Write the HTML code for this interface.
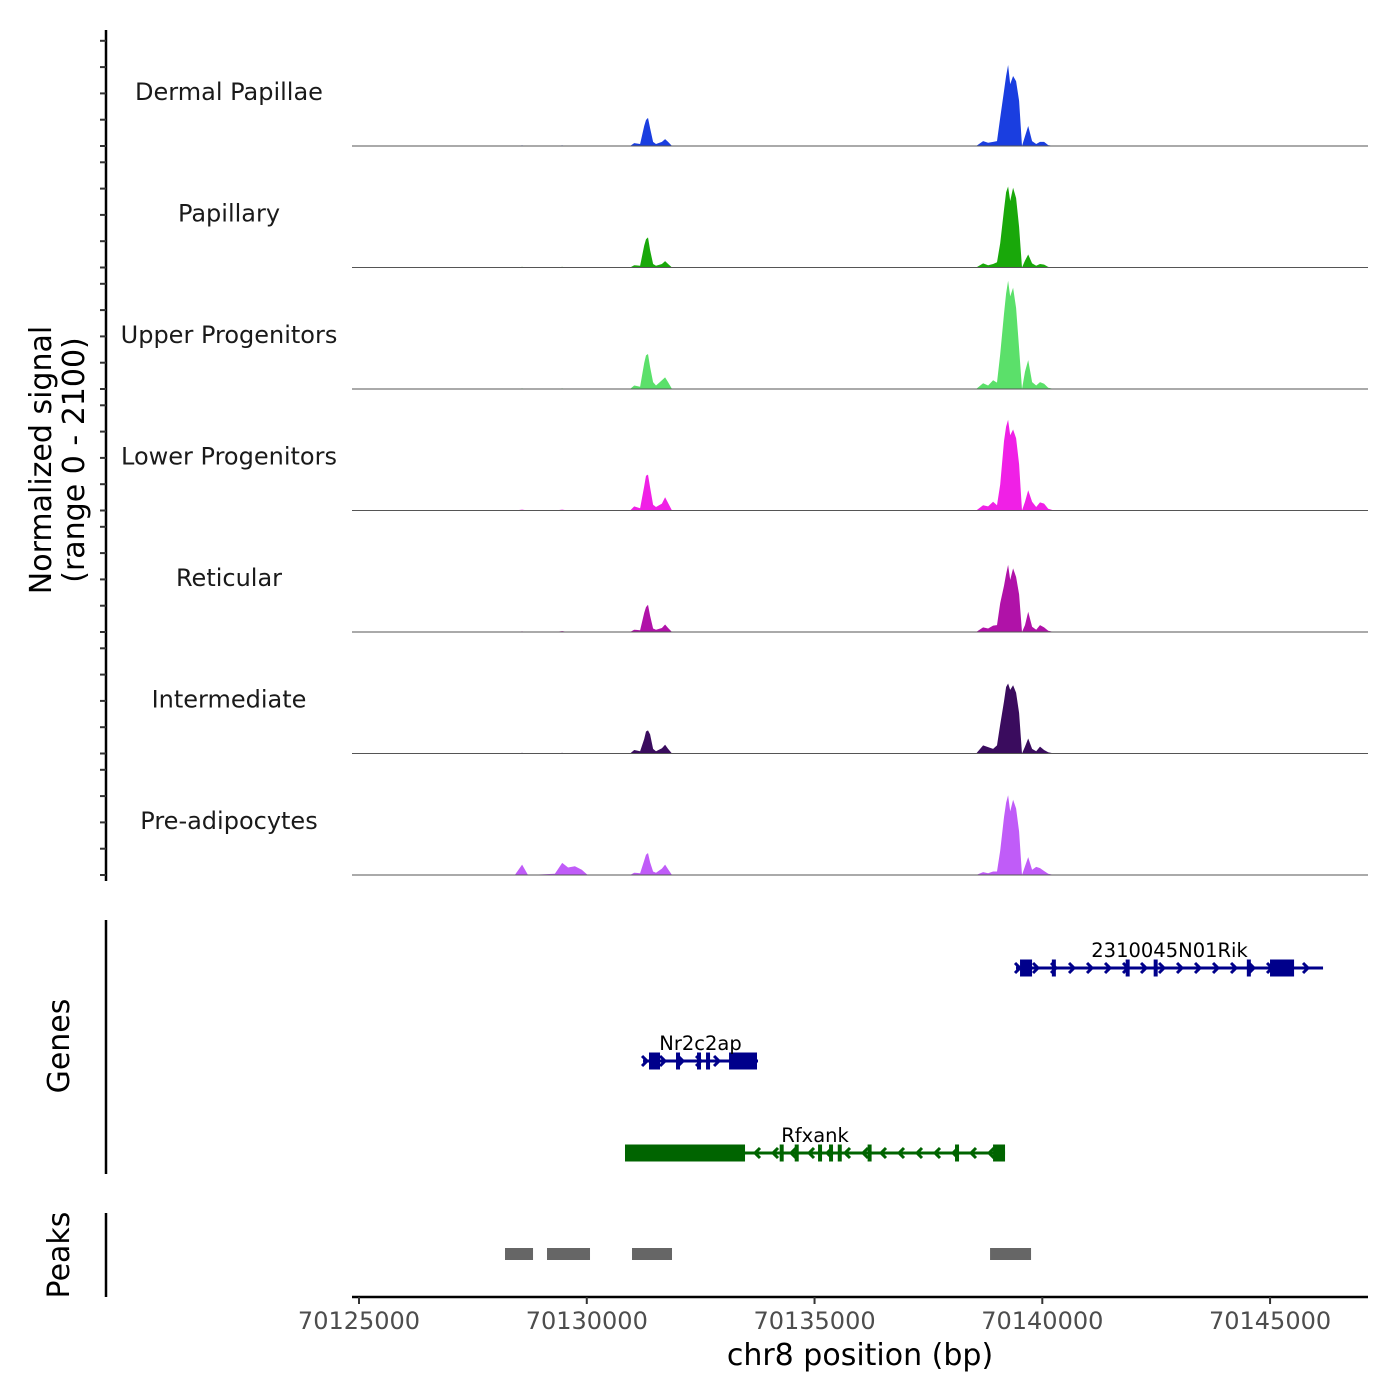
<!DOCTYPE html>
<html><head><meta charset="utf-8"><style>
body{margin:0;background:#fff}
svg{display:block;font-family:"DejaVu Sans","Liberation Sans",sans-serif}
</style></head><body>
<svg id="c" width="1400" height="1400" viewBox="0 0 1400 1400"></svg>
<script>
const trackNames=["Dermal Papillae","Papillary","Upper Progenitors","Lower Progenitors","Reticular","Intermediate","Pre-adipocytes"];
const trackColors=["#1a3ee0","#19a80a","#5be06a","#f020e6","#b012a8","#3a0c5e","#c05cf8"];
const positions=[70124850,70128420,70128580,70128710,70129300,70129460,70129590,70129740,70129890,70130020,
70130950,70131040,70131170,70131260,70131300,70131345,70131390,70131455,70131520,70131650,70131720,70131785,70131870,
70138550,70138700,70138810,70138920,70139005,70139075,70139160,70139205,70139250,70139295,70139360,70139425,70139490,70139555,70139620,70139690,70139775,70139865,70139950,70140040,70140130,70140260,70147150];
const sigDermal=[0,0,10,0,0,10,0,0,0,0, 0,50,35,345,450,485,310,70,35,70,120,70,0, 0,85,55,70,85,490,950,1210,1400,1070,1210,1120,780,0,170,345,85,35,70,70,15,0, 0];
const sigPapillary=[0,0,10,0,0,10,0,0,0,0, 0,40,30,380,490,520,300,60,30,60,110,60,0, 0,70,40,60,90,420,1000,1300,1400,1150,1380,1200,700,0,120,225,70,30,60,50,10,0, 0];
const sigUpper=[0,0,10,0,0,10,0,0,0,0, 0,60,40,450,580,605,380,120,60,150,200,120,0, 0,100,60,150,110,600,1300,1650,1870,1600,1750,1400,700,0,300,500,120,60,120,90,20,0, 0];
const sigLower=[0,0,15,0,0,15,0,0,0,0, 0,70,40,420,600,620,400,100,60,120,230,130,0, 0,90,70,150,90,450,1200,1450,1570,1300,1400,1250,800,0,150,350,150,60,140,120,30,0, 0];
const sigReticular=[0,0,10,0,0,15,0,0,0,0, 0,40,30,330,430,470,280,60,40,70,130,70,0, 0,80,60,110,120,500,800,1000,1160,900,1100,950,650,0,120,350,90,40,120,80,20,0, 0];
const sigIntermediate=[0,0,10,0,0,10,0,0,0,0, 0,60,40,250,380,400,330,80,40,90,150,80,0, 0,140,110,80,140,500,900,1150,1210,1100,1180,1050,700,0,120,260,80,40,120,60,20,0, 0];
const sigPreadipo=[0,0,180,0,20,210,130,150,90,0, 0,40,30,250,350,380,220,60,40,110,180,100,0, 0,50,30,60,60,420,1000,1250,1380,1100,1300,1150,750,0,150,310,90,140,120,70,20,0, 0];
const signals=[sigDermal,sigPapillary,sigUpper,sigLower,sigReticular,sigIntermediate,sigPreadipo];
const xTicks=[70125000,70130000,70135000,70140000,70145000];
const geneNames=["2310045N01Rik","Nr2c2ap","Rfxank"];
const geneStart=[70139423,70131235,70130839];
const geneEnd=[70146163,70133759,70139182];
const geneStrand=[1,1,-1];
const geneColors=["#00008b","#00008b","#006400"];
const exonsRik=[[70139511,70139775],[70140210,70140270],[70141830,70141890],[70142445,70142505],[70144490,70144550],[70144999,70145527]];
const exonsNr2=[[70131366,70131608],[70131959,70132047],[70132420,70132486],[70132618,70132662],[70133123,70133737]];
const exonsRfx=[[70130839,70133474],[70134235,70134295],[70134565,70134625],[70135077,70135164],[70135318,70135384],[70135510,70135570],[70136165,70136225],[70138084,70138172],[70138919,70139182]];
const geneExons=[exonsRik,exonsNr2,exonsRfx];
const peakStart=[70128205,70129127,70130993,70138853];
const peakEnd=[70128820,70130071,70131871,70139753];

const NS="http://www.w3.org/2000/svg";
const svg=document.getElementById("c");
function el(t,a,p){const e=document.createElementNS(NS,t);for(const k in a)e.setAttribute(k,a[k]);(p||svg).appendChild(e);return e;}
const X0=352,X1=1368,D0=70124846,D1=70147150;
const xs=v=>X0+(v-D0)/(D1-D0)*(X1-X0);
const trackH=121.5,firstBase=146,ymax=2100;
let ax=el("line",{x1:106,y1:30,x2:106,y2:881,stroke:"#000","stroke-width":2.5});


for(let k=0;k<7;k++){
  const base=firstBase+k*trackH;
  const g=el("g",{});
  
  
  for(let j=0;j<5;j++){
    const ty=base-j*26.3;
    const t=el("line",{x1:100,y1:ty,x2:106,y2:ty,stroke:"#333","stroke-width":2},g);
    
    
  }
  const ys=v=>base-v/ymax*trackH;
  let d="M"+xs(positions[0])+","+base;
  positions.forEach((p,i)=>{d+=" L"+xs(p).toFixed(1)+","+ys(signals[k][i]).toFixed(1);});
  d+=" L"+xs(positions[positions.length-1])+","+base+"Z";
  const ar=el("path",{d:d,fill:trackColors[k]},g);
  
  
  const bl=el("line",{x1:X0,y1:base,x2:X1,y2:base,stroke:"#555","stroke-width":1},g);
  
  
  const lb=el("text",{x:229,y:base-46,"text-anchor":"middle","font-size":24,fill:"#1a1a1a"},g);
  lb.textContent=trackNames[k];
  
  
}
const yt=el("text",{transform:"translate(51,460) rotate(-90)","text-anchor":"middle","font-size":30,fill:"#000"});


const t1=el("tspan",{x:0,dy:0},yt);t1.textContent="Normalized signal";
const t2=el("tspan",{x:0,dy:33},yt);t2.textContent="(range 0 - 2100)";
const ga=el("line",{x1:106,y1:920,x2:106,y2:1174,stroke:"#000","stroke-width":2.5});


const gt=el("text",{transform:"translate(69,1046) rotate(-90)","text-anchor":"middle","font-size":30,fill:"#000"});
gt.textContent="Genes";


const geneY=[968,1061,1153];
for(let g=0;g<3;g++){
  const y=geneY[g],c=geneColors[g];
  const gg=el("g",{});
  
  
  const a=xs(geneStart[g]),b=xs(geneEnd[g]);
  el("line",{x1:a,y1:y,x2:b,y2:y,stroke:c,"stroke-width":3},gg);
  const n=Math.floor((b-a)/18);
  for(let i=0;i<=n;i++){
    const px=a+4+i*18;if(px>b)break;
    const s=geneStrand[g]*5;
    el("polyline",{points:(px-s)+","+(y-5)+" "+px+","+y+" "+(px-s)+","+(y+5),fill:"none",stroke:c,"stroke-width":3},gg);
  }
  geneExons[g].forEach(e=>{
    const ex=el("rect",{x:xs(e[0]),y:y-8.5,width:Math.max(4,xs(e[1])-xs(e[0])),height:17,fill:c},gg);
    
    
  });
  const lx=(a+b)/2;
  const tl=el("text",{x:lx,y:y-11,"text-anchor":"middle","font-size":19.5,fill:"#000"},gg);
  tl.textContent=geneNames[g];
  
  
}
const pa=el("line",{x1:106,y1:1213,x2:106,y2:1297,stroke:"#000","stroke-width":2.5});


const pt=el("text",{transform:"translate(69,1255) rotate(-90)","text-anchor":"middle","font-size":30,fill:"#000"});
pt.textContent="Peaks";


peakStart.forEach((s,i)=>{
  const r=el("rect",{x:xs(s),y:1248,width:xs(peakEnd[i])-xs(s),height:12,fill:"#666"});
  
  
});
const xa=el("line",{x1:X0,y1:1297,x2:X1,y2:1297,stroke:"#000","stroke-width":2.5});


xTicks.forEach(v=>{
  const x=xs(v);
  const tk=el("line",{x1:x,y1:1297,x2:x,y2:1304,stroke:"#333","stroke-width":2});
  
  
  const tx=el("text",{x:x,y:1329,"text-anchor":"middle","font-size":24,fill:"#4d4d4d"});
  tx.textContent=String(v);
  
  
});
const xt=el("text",{x:860,y:1365,"text-anchor":"middle","font-size":30,fill:"#000"});
xt.textContent="chr8 position (bp)";


</script>
</body></html>
